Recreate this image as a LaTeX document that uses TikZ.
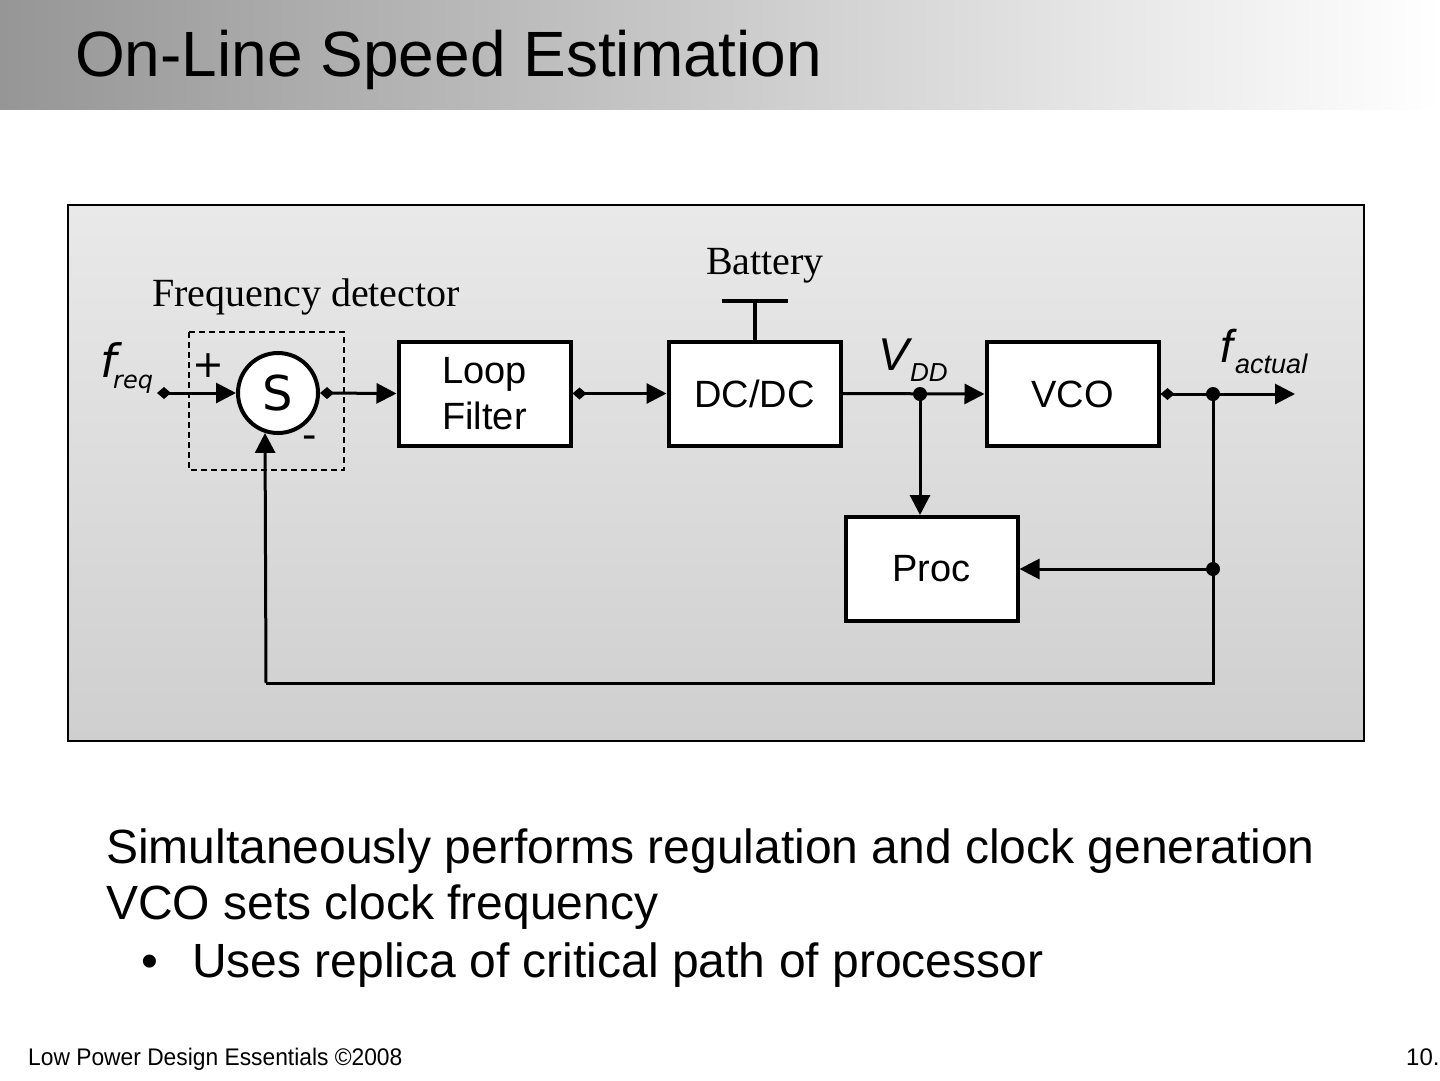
\documentclass[tikz,border=0pt]{standalone}
\usepackage{fontspec}
\setmainfont{Liberation Sans}
\newfontfamily\serifrm{Liberation Serif}
\newfontfamily\djv{DejaVu Sans}
\usetikzlibrary{arrows.meta}
\newcommand\fsz[2]{\fontsize{#1}{#2}\selectfont}
\definecolor{hdrgray}{RGB}{150,150,150}
\definecolor{boxtop}{RGB}{233,233,233}
\definecolor{boxbot}{RGB}{207,207,207}
\tikzset{
  blk/.style={draw, line width=4pt, fill=white, minimum width=172pt, minimum height=104pt, font=\fsz{38pt}{46pt}, align=center, inner sep=0pt},
  conn/.style={line width=3pt, {Diamond[length=14pt,width=12pt]}-{Triangle[length=20pt,width=20pt]}},
  plain/.style={line width=3pt},
  arr/.style={line width=3pt, -{Triangle[length=20pt,width=20pt]}},
  txt/.style={inner sep=0pt, anchor=base west},
  dot/.style={circle, fill=black, inner sep=0pt, minimum size=14pt}
}
\begin{document}
\begin{tikzpicture}[x=1pt,y=-1pt]
\useasboundingbox (0,0) rectangle (1440,1080);
% header
\fill[left color=hdrgray, right color=white] (0,0) rectangle (1440,109);
\node[txt, font=\fsz{64pt}{70pt}] (title) at (75,76) {On-Line Speed Estimation};
% frame
\draw[line width=1.2pt, top color=boxtop, bottom color=boxbot] (68,205) rectangle (1364,741);
% labels
\node[inner sep=0pt, anchor=base, font=\serifrm\fsz{40pt}{44pt}] (bat) at (765,274) {Battery};
\node[txt, font=\serifrm\fsz{40pt}{44pt}] (fd) at (152,306) {Frequency detector};
% dashed detector box
\draw[line width=1.3pt, dash pattern=on 6pt off 4pt] (189,332) rectangle (344,470);
% blocks
\node[circle, draw, line width=4pt, fill=white, minimum size=80pt, inner sep=0pt, font=\djv\fsz{48pt}{52pt}] (S) at (278,393) {S};
\node[blk] (lf) at (484.5,393.5) {Loop\\Filter};
\node[blk] (dc) at (754.5,393.5) {DC/DC};
\node[blk] (vco) at (1072.5,394) {VCO};
\node[blk] (proc) at (931.5,569) {Proc};
% signs and symbols
\node[inner sep=0pt, font=\djv\fsz{38pt}{40pt}] (plus) at (208,366) {+};
\node[inner sep=0pt, font=\djv\fsz{40pt}{44pt}] (minus) at (310,442) {-};
\node[txt, font=\djv\itshape\fsz{46pt}{50pt}] (freqf) at (100,377) {f};
\node[txt, font=\djv\itshape\fsz{24pt}{28pt}] (freqs) at (113,388) {req};
\node[txt, font=\itshape\fsz{46pt}{50pt}] (vddv) at (878,370) {V};
\node[txt, font=\itshape\fsz{26pt}{30pt}] (vdds) at (910,381) {DD};
\node[txt, font=\itshape\fsz{46pt}{50pt}] (factf) at (1220,362) {f};
\node[txt, font=\itshape\fsz{27pt}{30pt}] (facts) at (1235,373) {actual};
% coordinates
\coordinate (freqin) at (157,393);
\coordinate (batt) at (754.5,301);
\coordinate (vdd) at (920,394);
\coordinate (fa) at (1213,394);
\coordinate (fout) at (1295,394);
\coordinate (pf) at (1213,569);
\coordinate (corner) at (266,683);
% battery
\draw[line width=4pt] (dc.north) -- (batt);
\draw[line width=4pt] ([xshift=-33pt]batt) -- ([xshift=33pt]batt);
% connectors
\draw[conn] (freqin) -- (S.west);
\draw[conn] (S.east) -- (lf.west);
\draw[conn] (lf.east) -- (dc.west);
\draw[arr] (dc.east) -- (vco.west);
\draw[arr] (vdd) -- (vdd |- proc.north);
\draw[conn] (vco.east) -- (fout);
\draw[plain] (fa) |- (corner);
\draw[arr] (corner) -- (S.252);
\draw[arr] (pf) -- (proc.east);
\node[dot] (vdddot) at (vdd) {};
\node[dot] (fadot) at (fa) {};
\node[dot] (pfdot) at (pf) {};
% bottom text
\node[txt, font=\fsz{48pt}{54pt}] (l1) at (106,863) {Simultaneously performs regulation and clock generation};
\node[txt, font=\fsz{48pt}{54pt}] (l2) at (106,919) {VCO sets clock frequency};
\node[txt, font=\fsz{48pt}{54pt}] (bul) at (141,977) {\textbullet};
\node[txt, font=\fsz{48pt}{54pt}] (l3) at (192,977) {Uses replica of critical path of processor};
% footer
\node[txt, font=\fsz{24pt}{28pt}] (foot) at (28,1065) {\scalebox{0.95}[1]{Low Power Design Essentials \textcopyright2008}};
\node[txt, font=\fsz{24pt}{28pt}] (pg) at (1406,1065) {10.};
\end{tikzpicture}
\end{document}
